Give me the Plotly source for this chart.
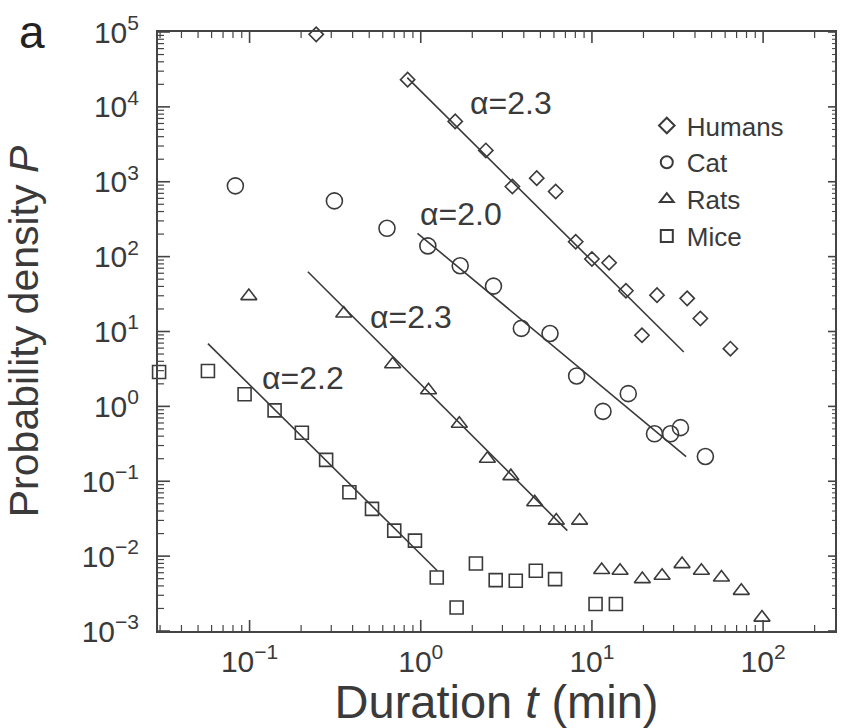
import plotly.graph_objects as go
import math

# ---------------- data ----------------
humans_t = [0.245, 0.838, 1.59, 2.40, 3.43, 4.76, 6.14, 8.04, 10.0, 12.6, 15.8, 19.6, 24.0, 36.0, 43.0, 64.4]
humans_p = [9.3e4, 2.31e4, 6.4e3, 2.62e3, 863, 1117, 740, 158, 93, 82.8, 35, 8.9, 30.6, 27.7, 14.9, 5.9]

cat_t = [0.0826, 0.313, 0.635, 1.10, 1.70, 2.66, 3.87, 5.69, 8.14, 11.6, 16.3, 23.2, 28.8, 32.9, 46.0]
cat_p = [881, 555, 239, 139, 75.5, 40.4, 11.0, 9.4, 2.55, 0.857, 1.48, 0.43, 0.43, 0.52, 0.214]

rats_t = [0.099, 0.355, 0.685, 1.11, 1.68, 2.45, 3.36, 4.63, 6.19, 8.47,
          11.4, 14.6, 19.7, 25.7, 33.6, 43.6, 57.1, 74.6, 98.5]
rats_p = [29.7, 17.4, 3.65, 1.64, 0.586, 0.20, 0.117, 0.0524, 0.0298, 0.0298,
          0.00652, 0.00638, 0.00493, 0.00547, 0.00783, 0.00638, 0.00519, 0.00344, 0.00151]

mice_t = [0.0296, 0.0571, 0.0935, 0.140, 0.202, 0.280, 0.383, 0.519, 0.700, 0.925,
          1.24, 1.62, 2.10, 2.74, 3.59, 4.70, 6.09, 10.5, 13.8]
mice_p = [2.88, 2.97, 1.45, 0.883, 0.445, 0.193, 0.0713, 0.0427, 0.0219, 0.0161,
          0.00519, 0.00206, 0.00798, 0.00478, 0.00469, 0.00638, 0.00493, 0.00229, 0.00229]

# power-law fit segments (end points)
humans_fit_t = [0.834, 34.4]
humans_fit_p = [24600, 5.33]
cat_fit_t = [0.957, 35.5]
cat_fit_p = [205, 0.214]
rats_fit_t = [0.219, 7.18]
rats_fit_p = [62.8, 0.0219]
mice_fit_t = [0.0571, 1.25]
mice_fit_p = [6.9, 0.00638]

fit_labels = ["α=2.3", "α=2.0", "α=2.3", "α=2.2"]
fit_label_t = [3.35, 1.714, 0.877, 0.205]
fit_label_p = [11376, 371.5, 15.52, 2.371]

series_names = ["Humans", "Cat", "Rats", "Mice"]
x_tick_vals = [0.1, 1, 10, 100]
x_tick_text = ["10<sup>−1</sup>", "10<sup>0</sup>", "10<sup>1</sup>", "10<sup>2</sup>"]
y_tick_vals = [1e-3, 1e-2, 1e-1, 1, 10, 100, 1e3, 1e4, 1e5]
y_tick_text = ["10<sup>−3</sup>", "10<sup>−2</sup>", "10<sup>−1</sup>", "10<sup>0</sup>",
               "10<sup>1</sup>", "10<sup>2</sup>", "10<sup>3</sup>", "10<sup>4</sup>",
               "10<sup>5</sup>"]

X_RANGE = [-1.535, 2.42]
Y_RANGE = [-3.0, 5.0]

# ---------------- styling ----------------
FONT = "Liberation Sans, Arial, Helvetica, sans-serif"
INK = "#3a3a3a"
TICK = "#444"
W, H = 841, 728
M = dict(l=158, r=4, t=32, b=97)
PLOT_W = W - M["l"] - M["r"]
PLOT_H = H - M["t"] - M["b"]

fig = go.Figure()

for ft, fp in [(humans_fit_t, humans_fit_p), (cat_fit_t, cat_fit_p),
               (rats_fit_t, rats_fit_p), (mice_fit_t, mice_fit_p)]:
    fig.add_trace(go.Scatter(x=ft, y=fp, mode="lines", showlegend=False,
                             line=dict(color=INK, width=1.6), hoverinfo="skip"))

marker_specs = [
    (humans_t, humans_p, "diamond-open", 11),
    (cat_t, cat_p, "circle-open", 16),
    (rats_t, rats_p, "triangle-up-open", 14),
    (mice_t, mice_p, "square-open", 13),
]
for name, (t, p, sym, sz) in zip(series_names, marker_specs):
    fig.add_trace(go.Scatter(
        x=t, y=p, mode="markers", name=name, cliponaxis=False,
        marker=dict(symbol=sym, size=sz, color=INK,
                    line=dict(color=INK, width=1.6)),
    ))

for txt, lt, lp in zip(fit_labels, fit_label_t, fit_label_p):
    fig.add_annotation(x=math.log10(lt), y=math.log10(lp), text=txt,
                       showarrow=False, xanchor="center", yanchor="middle",
                       font=dict(family=FONT, size=32, color=INK))

fig.add_annotation(xref="paper", yref="paper", x=-0.186, y=1.0, text="a",
                   showarrow=False, xanchor="center", yanchor="middle",
                   font=dict(family=FONT, size=46, color="#222"))


# ---------------- tick marks drawn inside the frame (paper coords) ----------------
def log_ticks(lo, hi):
    major, minor = [], []
    for e in range(math.floor(lo) - 1, math.ceil(hi) + 1):
        for m in range(1, 10):
            lv = e + math.log10(m)
            if lo - 1e-9 <= lv <= hi + 1e-9:
                (major if m == 1 else minor).append(lv)
    return major, minor


def frac(lv, rng):
    return (lv - rng[0]) / (rng[1] - rng[0])


def x_tick(lv, side, length, width):
    px = frac(lv, X_RANGE)
    d = length / PLOT_H
    y0, y1 = (0, d) if side == "bottom" else (1, 1 - d)
    return dict(type="line", xref="paper", yref="paper", x0=px, x1=px, y0=y0, y1=y1,
                layer="above", line=dict(color=TICK, width=width))


def y_tick(lv, side, length, width):
    py = frac(lv, Y_RANGE)
    d = length / PLOT_W
    x0, x1 = (0, d) if side == "left" else (1, 1 - d)
    return dict(type="line", xref="paper", yref="paper", x0=x0, x1=x1, y0=py, y1=py,
                layer="above", line=dict(color=TICK, width=width))


shapes = []
xmaj, xmin = log_ticks(*X_RANGE)
ymaj, ymin = log_ticks(*Y_RANGE)
for side in ("bottom", "top"):
    shapes += [x_tick(v, side, 11, 1.6) for v in xmaj]
    shapes += [x_tick(v, side, 6, 1.2) for v in xmin]
shapes += [y_tick(v, "left", 12, 1.6) for v in ymaj]
shapes += [y_tick(v, "left", 6, 1.2) for v in ymin]
shapes += [y_tick(v, "right", 7, 1.6) for v in ymaj]
shapes += [y_tick(v, "right", 3, 1.0) for v in ymin]

axis_common = dict(
    type="log", showline=True, linewidth=2, linecolor="#444", mirror=True,
    ticks="", showgrid=False, zeroline=False, tickmode="array",
    tickfont=dict(family=FONT, size=30, color=INK),
)

fig.update_layout(
    xaxis=dict(**axis_common, range=X_RANGE, tickvals=x_tick_vals, ticktext=x_tick_text,
               ticklabelstandoff=3,
               title=dict(text="Duration <i>t</i> (min)", standoff=1,
                          font=dict(family=FONT, size=47, color=INK))),
    yaxis=dict(**axis_common, range=Y_RANGE, tickvals=y_tick_vals, ticktext=y_tick_text,
               ticklabelstandoff=11,
               title=dict(text="Probability density <i>P</i>", standoff=30,
                          font=dict(family=FONT, size=41, color=INK))),
    shapes=shapes,
    width=W, height=H,
    margin=M,
    paper_bgcolor="white", plot_bgcolor="white",
    font=dict(family=FONT, color=INK),
    legend=dict(x=0.722, y=0.883, xanchor="left", yanchor="top",
                bgcolor="rgba(0,0,0,0)", borderwidth=0, itemsizing="constant",
                font=dict(family=FONT, size=26, color=INK),
                itemwidth=30, tracegroupgap=0),
)

fig.write_html("out.html")
